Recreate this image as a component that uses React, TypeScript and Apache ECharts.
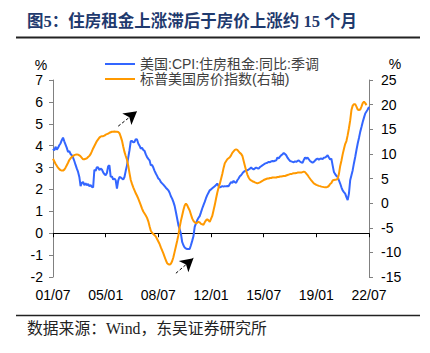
import React, { useEffect, useRef } from "react";
import * as echarts from "echarts";

// Monthly categories 2001/07 .. 2022/07
const START_YEAR = 2001;
const START_MONTH = 7;
const MONTH_COUNT = 253;
const categories: string[] = [];
for (let k = 0; k < MONTH_COUNT; k++) {
  const m = START_MONTH - 1 + k;
  const y = START_YEAR + Math.floor(m / 12);
  const mm = (m % 12) + 1;
  categories.push(`${y}-${mm < 10 ? "0" + mm : mm}`);
}

const seriesNames = ["美国:CPI:住房租金:同比:季调", "标普美国房价指数(右轴)"];

// US CPI rent YoY (%), left axis, 2001/07 - 2022/07
const rentCpi: number[] = [
  3.85, 3.78, 3.95, 3.82, 3.9, 4.02, // 2001 H2
  4.1, 4.25, 4.37, 4.2, 4.05, 3.9, 3.71, 3.75, 3.62, 3.56, 3.45, 3.3, // 2002
  3.12, 2.95, 2.8, 2.57, 2.15, 2.3, 2.34, 2.2, 2.28, 2.19, 2.25, 2.15, // 2003
  2.2, 2.12, 2.09, 2.9, 2.85, 3.02, 3.0, 2.88, 2.95, 2.91, 2.78, 2.7, // 2004
  2.65, 2.75, 3.06, 3.1, 2.57, 2.6, 2.45, 2.5, 2.42, 2.04, 2.4, 2.57, // 2005
  2.55, 2.5, 2.45, 2.57, 2.85, 3.1, 3.45, 3.79, 4.2, 4.22, 4.15, 4.17, // 2006
  4.3, 4.28, 4.1, 4.0, 3.87, 3.9, 3.8, 3.76, 3.6, 3.48, 3.4, 3.33, // 2007
  3.1, 3.12, 3.0, 2.85, 2.73, 2.62, 2.5, 2.45, 2.34, 2.28, 2.22, 2.15, // 2008
  2.08, 2.02, 1.96, 1.85, 1.69, 1.58, 1.43, 1.25, 0.97, 0.67, 0.37, 0.18, // 2009
  -0.02, -0.4, -0.55, -0.65, -0.7, -0.72, -0.72, -0.72, -0.55, -0.35, -0.14, 0.29, // 2010
  0.45, 0.59, 0.7, 0.78, 0.95, 1.13, 1.28, 1.43, 1.6, 1.74, 1.85, 1.96, // 2011
  2.0, 2.05, 2.1, 2.15, 2.2, 2.27, 2.15, 2.09, 2.12, 2.15, 2.13, 2.15, // 2012
  2.14, 2.16, 2.15, 2.25, 2.34, 2.3, 2.39, 2.33, 2.3, 2.42, 2.5, 2.6, // 2013
  2.65, 2.73, 2.8, 2.84, 2.86, 2.88, 2.91, 2.95, 3.0, 2.95, 2.91, 2.96, // 2014
  3.0, 2.97, 2.95, 3.02, 3.06, 3.1, 3.14, 3.18, 3.2, 3.22, 3.26, 3.24, // 2015
  3.28, 3.3, 3.29, 3.31, 3.33, 3.46, 3.42, 3.5, 3.56, 3.6, 3.67, 3.62, // 2016
  3.56, 3.45, 3.37, 3.3, 3.28, 3.26, 3.24, 3.28, 3.26, 3.3, 3.33, 3.27, // 2017
  3.24, 3.21, 3.35, 3.46, 3.4, 3.46, 3.38, 3.3, 3.26, 3.22, 3.26, 3.32, // 2018
  3.38, 3.41, 3.36, 3.4, 3.41, 3.38, 3.45, 3.46, 3.5, 3.56, 3.46, 3.37, // 2019
  3.41, 3.1, 2.8, 2.7, 2.62, 2.57, 2.42, 2.27, 2.1, 1.96, 1.88, 1.81, // 2020
  1.65, 1.51, 1.81, 2.42, 2.65, 2.88, 3.2, 3.48, 3.8, 4.1, 4.35, 4.63, // 2021
  4.85, 5.08, 5.28, 5.47, 5.56, 5.65, 5.77, // 2022 Jan-Jul
];

// S&P US home price index YoY (%), right axis, 2001/07 - 2022/05
const homePrice: number[] = [
  9.0, 8.5, 8.0, 7.6, 7.2, 6.9, // 2001 H2
  6.7, 6.6, 6.6, 6.8, 7.2, 7.7, 8.2, 8.75, 9.1, 9.4, 9.56, 9.75, // 2002
  9.85, 9.9, 9.85, 9.7, 9.5, 9.2, 8.9, 8.9, 9.0, 9.1, 9.35, 9.6, // 2003
  9.95, 10.5, 11.1, 11.6, 12.1, 12.6, 12.95, 13.3, 13.5, 13.6, 13.6, 13.7, // 2004
  13.9, 14.0, 14.1, 14.3, 14.4, 14.5, 14.5, 14.55, 14.5, 14.5, 14.45, 14.2, // 2005
  13.5, 12.7, 11.5, 10.4, 9.56, 8.8, 7.6, 6.1, 4.7, 3.9, 3.2, 2.6, // 2006
  2.0, 1.5, 0.9, 0.25, -0.4, -1.1, -1.7, -2.1, -2.5, -3.0, -3.7, -4.7, // 2007
  -5.6, -6.0, -6.3, -6.5, -6.8, -7.3, -7.8, -8.3, -9.0, -9.6, -10.2, -10.9, // 2008
  -11.6, -12.2, -12.4, -12.5, -12.3, -11.8, -11.0, -9.9, -8.8, -7.7, -6.5, -4.9, // 2009
  -3.6, -2.5, -1.4, -0.5, -0.1, -0.4, -1.0, -1.5, -2.3, -3.1, -3.6, -3.9, // 2010
  -4.1, -4.0, -3.8, -3.9, -4.2, -4.3, -4.4, -3.9, -3.5, -3.3, -3.5, -3.8, // 2011
  -3.2, -2.6, -1.5, -0.4, 0.9, 2.1, 3.1, 3.9, 4.9, 5.9, 7.1, 8.1, // 2012
  8.5, 8.9, 9.1, 9.3, 9.7, 10.2, 10.5, 10.8, 10.9, 10.8, 10.5, 10.2, // 2013
  10.0, 9.6, 8.6, 7.6, 6.6, 5.8, 5.2, 4.8, 4.6, 4.45, 4.35, 4.2, // 2014
  4.1, 4.0, 4.1, 4.2, 4.35, 4.5, 4.7, 4.8, 4.9, 5.0, 5.0, 5.1, // 2015
  5.1, 5.2, 5.2, 5.2, 5.2, 5.3, 5.3, 5.4, 5.4, 5.45, 5.5, 5.5, // 2016
  5.6, 5.7, 5.8, 5.9, 5.9, 6.0, 6.05, 6.05, 6.1, 6.2, 6.2, 6.2, // 2017
  6.2, 6.3, 6.4, 6.3, 6.0, 5.7, 5.3, 4.95, 4.6, 4.3, 4.0, 3.85, // 2018
  3.7, 3.6, 3.5, 3.45, 3.35, 3.3, 3.25, 3.2, 3.2, 3.3, 3.5, 3.9, // 2019
  4.1, 4.6, 4.7, 4.75, 4.8, 4.9, 5.9, 7.5, 8.6, 9.9, 11.0, 12.0, // 2020
  12.6, 13.8, 15.2, 16.8, 18.9, 19.8, 20.1, 20.1, 19.6, 19.0, 18.9, 19.0, // 2021
  19.6, 20.3, 20.6, 20.3, 19.9, // 2022 Jan-May
];

// Annotation arrows: [month index, left-axis value]
const arrow1From: [number, number] = [52, 4.89];
const arrow1To: [number, number] = [67, 5.57];
const arrow2From: [number, number] = [98, -1.83];
const arrow2To: [number, number] = [112, -1.14];

const leftTicks = { min: -2, max: 7, interval: 1 };
const rightTicks = { min: -15, max: 25, interval: 5 };

const TITLE = "图5：住房租金上涨滞后于房价上涨约 15 个月";
const SOURCE = "数据来源：Wind，东吴证券研究所";

const SANS = "'Liberation Sans', Arial, 'Noto Sans CJK SC', sans-serif";
const SERIF = "'Liberation Serif', 'Times New Roman', 'Noto Sans CJK SC', serif";

function buildOption() {
  const labelStyle = { color: "#000", fontSize: 14, fontFamily: SANS };
  const axisGray = "#808080";
  return {
    animation: false,
    backgroundColor: "#fff",
    grid: { left: 53, right: 61, top: 80, bottom: 76, containLabel: false },
    legend: {
      orient: "vertical",
      left: 100,
      top: 52,
      icon: "rect",
      itemWidth: 30,
      itemHeight: 2,
      itemGap: 1,
      textStyle: { fontSize: 14, lineHeight: 14, color: "#404040", fontFamily: SANS },
      data: seriesNames,
    },
    xAxis: [
      {
        type: "category",
        data: categories,
        boundaryGap: false,
        position: "bottom",
        axisLine: { show: false, onZero: false },
        axisTick: { show: false },
        splitLine: { show: false },
        axisLabel: {
          ...labelStyle,
          interval: 41,
          margin: 11,
          formatter: (v: string) => v.slice(2, 4) + "/" + v.slice(5, 7),
        },
      },
      {
        type: "category",
        data: categories,
        boundaryGap: false,
        position: "bottom",
        axisLine: { show: true, onZero: true, lineStyle: { color: "#000", width: 1 } },
        axisTick: { show: true, interval: 41, length: 4, lineStyle: { color: "#000" } },
        axisLabel: { show: false },
        splitLine: { show: false },
      },
    ],
    yAxis: [
      {
        type: "value",
        position: "left",
        ...leftTicks,
        axisLine: { show: true, lineStyle: { color: axisGray, width: 1 } },
        axisTick: { show: true, length: 4, lineStyle: { color: axisGray } },
        axisLabel: { ...labelStyle, margin: 10 },
        splitLine: { show: false },
      },
      {
        type: "value",
        position: "right",
        ...rightTicks,
        axisLine: { show: true, lineStyle: { color: axisGray, width: 1 } },
        axisTick: { show: true, length: 4, lineStyle: { color: axisGray } },
        axisLabel: { ...labelStyle, margin: 12 },
        splitLine: { show: false },
      },
    ],
    series: [
      {
        name: seriesNames[0],
        type: "line",
        xAxisIndex: 0,
        yAxisIndex: 0,
        data: rentCpi,
        symbol: "none",
        lineStyle: { color: "#3366FF", width: 2 },
        itemStyle: { color: "#3366FF" },
        markLine: {
          silent: true,
          symbol: ["none", "arrow"],
          symbolSize: [11, 13],
          label: { show: false },
          lineStyle: { type: [3, 2], color: "#000", width: 1 },
          data: [
            [
              { coord: [categories[arrow1From[0]], arrow1From[1]] },
              { coord: [categories[arrow1To[0]], arrow1To[1]] },
            ],
            [
              { coord: [categories[arrow2From[0]], arrow2From[1]] },
              { coord: [categories[arrow2To[0]], arrow2To[1]] },
            ],
          ],
        },
      },
      {
        name: seriesNames[1],
        type: "line",
        xAxisIndex: 0,
        yAxisIndex: 1,
        data: homePrice,
        symbol: "none",
        lineStyle: { color: "#FF9900", width: 2 },
        itemStyle: { color: "#FF9900" },
      },
    ],
    graphic: [
      {
        type: "text",
        x: 27,
        y: 21,
        style: {
          text: TITLE,
          fontSize: 16.5,
          fontWeight: "bold",
          fontFamily: SERIF,
          fill: "#1F3A6E",
          verticalAlign: "middle",
        },
      },
      {
        type: "line",
        shape: { x1: 16, y1: 37.5, x2: 420, y2: 37.5 },
        style: { stroke: "#222", lineWidth: 2 },
      },
      {
        type: "text",
        x: 41,
        y: 65,
        style: { text: "%", fontSize: 14, fontFamily: SANS, fill: "#000", align: "center", verticalAlign: "middle" },
      },
      {
        type: "text",
        x: 395,
        y: 64,
        style: { text: "%", fontSize: 14, fontFamily: SANS, fill: "#000", align: "center", verticalAlign: "middle" },
      },
      {
        type: "line",
        shape: { x1: 16, y1: 315.5, x2: 420, y2: 315.5 },
        style: { stroke: "#222", lineWidth: 1.3 },
      },
      {
        type: "text",
        x: 27,
        y: 328,
        style: {
          text: SOURCE,
          fontSize: 15.8,
          fontFamily: SERIF,
          fill: "#222",
          verticalAlign: "middle",
        },
      },
    ],
  };
}

export default function App() {
  const ref = useRef<HTMLDivElement>(null);
  useEffect(() => {
    if (!ref.current) return;
    const chart = echarts.init(ref.current, null, { renderer: "svg" });
    chart.setOption(buildOption() as any);
    return () => chart.dispose();
  }, []);
  return (
    <div
      ref={ref}
      style={{ position: "absolute", left: 0, top: 0, width: 430, height: 353, background: "#fff" }}
    />
  );
}
